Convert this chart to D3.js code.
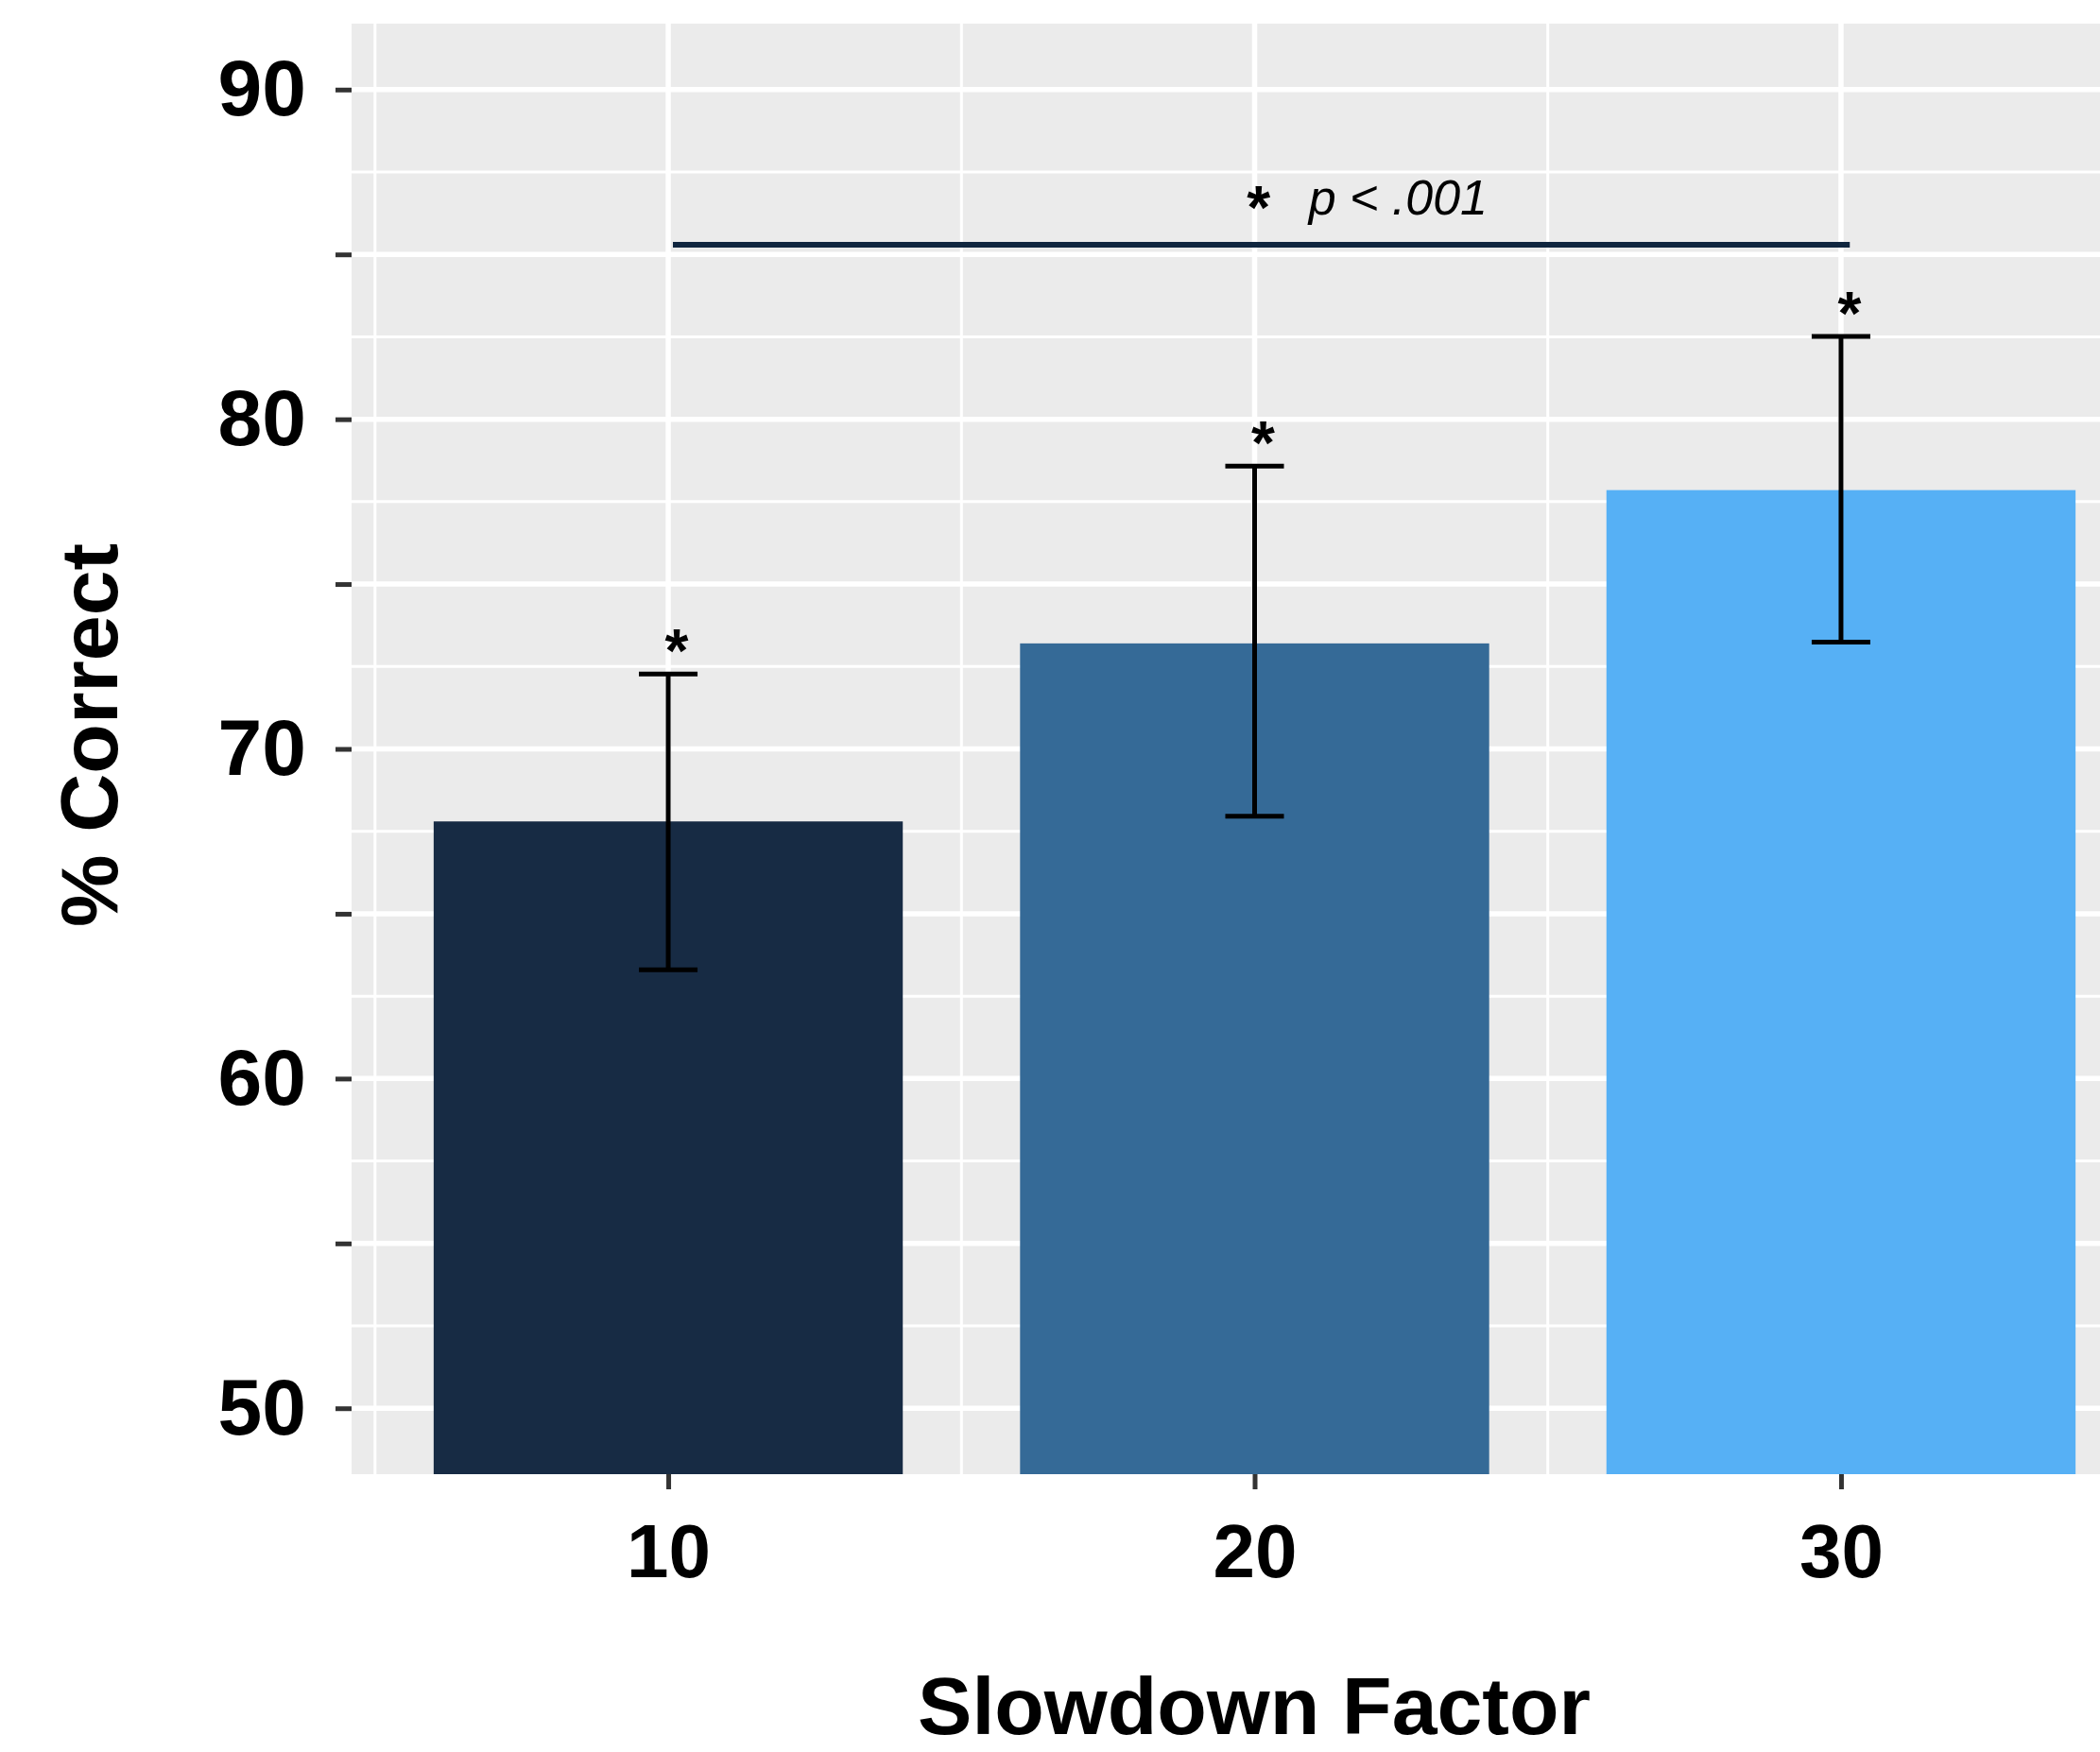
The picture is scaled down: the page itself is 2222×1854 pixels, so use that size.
<!DOCTYPE html>
<html>
<head>
<meta charset="utf-8">
<script src="https://cdn.jsdelivr.net/npm/d3@7"></script>
<style>
  body { margin: 0; background: #fff; }
  svg { display: block; font-family: "Liberation Sans", Arial, sans-serif; }
</style>
</head>
<body>
<div id="chart"></div>
<script>
'use strict';

// data
const factors = [10, 20, 30];
const means = [67.8, 73.2, 77.85];
const errLow = [63.3, 67.96, 73.24];
const errHigh = [72.27, 78.58, 82.51];
const barColors = ['#172b44', '#356a97', '#56b0f5'];
const yBreaks = [50, 55, 60, 65, 70, 75, 80, 85, 90];
const yMinor = [47.5, 52.5, 57.5, 62.5, 67.5, 72.5, 77.5, 82.5, 87.5, 92.5];
const xMinor = [5, 15, 25, 35];

// significance bracket
const sigFrom = 10.08;
const sigTo = 30.15;
const sigLevel = 85.29;
const sigLabel = 'p < .001';

const size = { width: 2222, height: 1854 };
const panel = { left: 372, right: 2283, top: 25, bottom: 1560 };

const svg = d3.select('#chart')
    .append('svg')
    .attr('width', size.width)
    .attr('height', size.height);

const x = d3.scaleLinear()
    .domain([4.6, 35.4])
    .range([panel.left, panel.right]);

const y = d3.scaleLinear()
    .domain([48, 92])
    .range([panel.bottom, panel.top]);

// panel background
svg.append('rect')
    .attr('x', panel.left)
    .attr('y', panel.top)
    .attr('width', panel.right - panel.left)
    .attr('height', panel.bottom - panel.top)
    .attr('fill', '#ebebeb');

// grid lines
const grid = svg.append('g');
grid.selectAll('.ymin')
    .data(yMinor.filter(d => d > 48 && d < 92))
    .enter().append('line')
    .attr('x1', panel.left).attr('x2', panel.right)
    .attr('y1', d => y(d)).attr('y2', d => y(d))
    .attr('stroke', '#fff').attr('stroke-width', 3);
grid.selectAll('.xmin')
    .data(xMinor)
    .enter().append('line')
    .attr('y1', panel.top).attr('y2', panel.bottom)
    .attr('x1', d => x(d)).attr('x2', d => x(d))
    .attr('stroke', '#fff').attr('stroke-width', 3);
grid.selectAll('.ymaj')
    .data(yBreaks)
    .enter().append('line')
    .attr('x1', panel.left).attr('x2', panel.right)
    .attr('y1', d => y(d)).attr('y2', d => y(d))
    .attr('stroke', '#fff').attr('stroke-width', 5.5);
grid.selectAll('.xmaj')
    .data(factors)
    .enter().append('line')
    .attr('y1', panel.top).attr('y2', panel.bottom)
    .attr('x1', d => x(d)).attr('x2', d => x(d))
    .attr('stroke', '#fff').attr('stroke-width', 5.5);

// bars (width 8 units, drawn from the panel floor)
svg.selectAll('.bar')
    .data(factors)
    .enter().append('rect')
    .attr('x', d => x(d - 4))
    .attr('width', d => x(d + 4) - x(d - 4))
    .attr('y', (d, i) => y(means[i]))
    .attr('height', (d, i) => panel.bottom - y(means[i]))
    .attr('fill', (d, i) => barColors[i]);

// error bars
const eb = svg.selectAll('.err')
    .data(factors)
    .enter().append('g')
    .attr('stroke', '#000')
    .attr('stroke-width', 5);
eb.append('line')
    .attr('x1', d => x(d)).attr('x2', d => x(d))
    .attr('y1', (d, i) => y(errLow[i])).attr('y2', (d, i) => y(errHigh[i]));
eb.append('line')
    .attr('x1', d => x(d - 0.5)).attr('x2', d => x(d + 0.5))
    .attr('y1', (d, i) => y(errHigh[i])).attr('y2', (d, i) => y(errHigh[i]));
eb.append('line')
    .attr('x1', d => x(d - 0.5)).attr('x2', d => x(d + 0.5))
    .attr('y1', (d, i) => y(errLow[i])).attr('y2', (d, i) => y(errLow[i]));

// asterisks above each error bar
svg.selectAll('.star')
    .data(factors)
    .enter().append('text')
    .attr('x', d => x(d) + 9)
    .attr('y', (d, i) => y(errHigh[i]) - 2)
    .attr('text-anchor', 'middle')
    .attr('font-size', 64)
    .attr('font-weight', 'bold')
    .text('*');

// significance line + label
svg.append('line')
    .attr('x1', x(sigFrom)).attr('x2', x(sigTo))
    .attr('y1', y(sigLevel)).attr('y2', y(sigLevel))
    .attr('stroke', '#10263f')
    .attr('stroke-width', 6);

const mid = (sigFrom + sigTo) / 2;
svg.append('text')
    .attr('x', x(mid) - 3)
    .attr('y', y(sigLevel) - 17)
    .attr('text-anchor', 'middle')
    .attr('font-size', 64)
    .attr('font-weight', 'bold')
    .text('*');
svg.append('text')
    .attr('x', x(mid) + 50)
    .attr('y', y(sigLevel) - 32)
    .attr('font-size', 52)
    .attr('font-style', 'italic')
    .text(sigLabel);

// axes
const yAxis = svg.append('g')
    .attr('transform', 'translate(' + panel.left + ',0)')
    .call(d3.axisLeft(y)
        .tickValues(yBreaks)
        .tickSize(17)
        .tickPadding(31)
        .tickFormat(d => d % 10 === 0 ? d : ''));

const xAxis = svg.append('g')
    .attr('transform', 'translate(0,' + panel.bottom + ')')
    .call(d3.axisBottom(x)
        .tickValues(factors)
        .tickSize(16)
        .tickPadding(36)
        .tickFormat(d => d));

[yAxis, xAxis].forEach(function(ax) {
    ax.select('.domain').remove();
    ax.selectAll('.tick line').attr('stroke', '#333').attr('stroke-width', 5);
    ax.selectAll('.tick text')
        .attr('fill', '#000')
        .attr('font-family', '"Liberation Sans", Arial, sans-serif')
        .attr('font-weight', 'bold');
});
yAxis.selectAll('.tick text').attr('font-size', 84);
xAxis.selectAll('.tick text').attr('font-size', 80);

// axis titles
svg.append('text')
    .attr('x', 1327)
    .attr('y', 1835)
    .attr('text-anchor', 'middle')
    .attr('font-size', 86)
    .attr('font-weight', 'bold')
    .text('Slowdown Factor');

svg.append('text')
    .attr('transform', 'translate(124, 778)rotate(-90)')
    .attr('text-anchor', 'middle')
    .attr('font-size', 86)
    .attr('font-weight', 'bold')
    .text('% Correct');
</script>
</body>
</html>
